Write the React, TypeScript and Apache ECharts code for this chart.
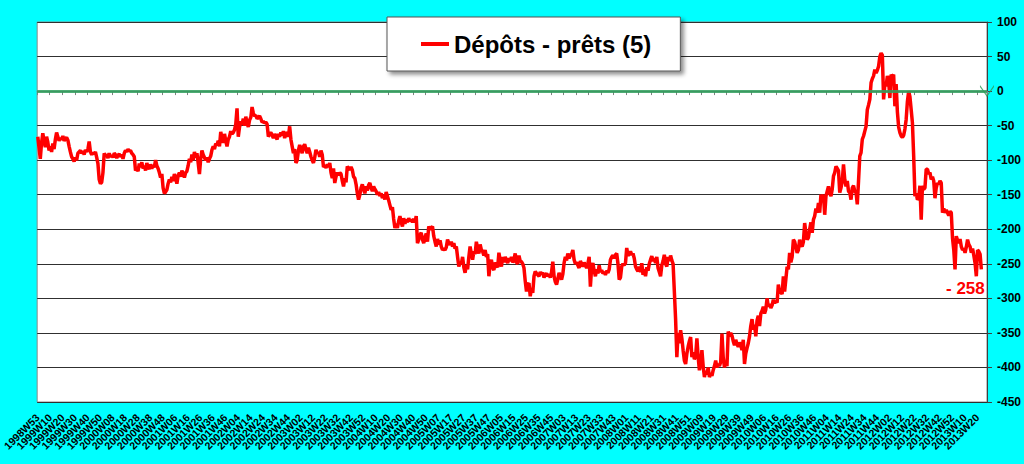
import React, { useEffect, useRef } from "react";
import * as echarts from "echarts";

// ISO weeks per year, first category is 1998W53
const startYear = 1998;
const startWeek = 53;
const weeksPerYear: Record<number, number> = {
  1998: 53, 1999: 52, 2000: 52, 2001: 52, 2002: 52, 2003: 52, 2004: 53, 2005: 52,
  2006: 52, 2007: 52, 2008: 52, 2009: 53, 2010: 52, 2011: 52, 2012: 52, 2013: 52,
};
const categoryCount = 758;
const labelEvery = 10;

const seriesName = "Dépôts - prêts (5)";

// weekly values (1998W53 ...)
const depotsMinusPrets: number[] = [
  -66, -82, -98, -75, -61, -72, -81, -66, -74, -86,
  -80, -88, -76, -84, -70, -60, -66, -72, -68, -70,
  -65, -72, -69, -67, -71, -80, -88, -95, -98, -102,
  -96, -100, -90, -88, -86, -90, -87, -92, -85, -88,
  -84, -73, -88, -92, -89, -91, -88, -96, -105, -128,
  -134, -132, -118, -90, -94, -92, -97, -90, -95, -93,
  -96, -90, -92, -97, -93, -91, -95, -92, -98, -90,
  -86, -88, -84, -87, -86, -90, -92, -95, -115, -112,
  -116, -105, -110, -103, -112, -108, -115, -104, -110, -113,
  -106, -112, -108, -110, -100, -108, -112, -118, -125, -120,
  -140, -148, -146, -143, -134, -128, -132, -124, -130, -120,
  -126, -134, -122, -118, -124, -115, -120, -125, -118, -116,
  -108, -98, -103, -92, -100, -88, -96, -90, -104, -120,
  -98, -86, -92, -96, -100, -96, -103, -98, -94, -85,
  -80, -84, -76, -78, -72, -80, -59, -68, -75, -62,
  -72, -80, -70, -66, -58, -62, -60, -56, -48, -25,
  -66, -52, -44, -48, -40, -50, -37, -46, -52, -42,
  -38, -23, -32, -36, -35, -40, -38, -36, -40, -45,
  -44, -46, -45, -48, -66, -62, -60, -64, -68, -62,
  -66, -70, -62, -66, -60, -64, -58, -68, -62, -60,
  -66, -51, -70, -80, -90, -84, -104, -100, -86, -78,
  -84, -90, -80, -77, -84, -90, -82, -88, -95, -100,
  -104, -96, -85, -90, -88, -95, -86, -92, -110, -108,
  -111, -106, -110, -104, -118, -126, -112, -133, -124, -118,
  -122, -118, -120, -130, -138, -126, -132, -109, -112, -114,
  -110, -114, -124, -126, -135, -148, -157, -150, -140, -135,
  -142, -148, -138, -144, -136, -133, -140, -145, -138, -142,
  -145, -150, -146, -152, -148, -155, -150, -157, -146, -152,
  -158, -165, -172, -168, -185, -198, -192, -198, -188, -181,
  -190, -196, -184, -192, -186, -190, -184, -188, -186, -190,
  -185, -190, -181, -220, -215, -208, -205, -215, -220, -212,
  -206, -218, -196, -200, -198, -196, -210, -218, -225, -214,
  -222, -216, -225, -230, -228, -230, -226, -215, -220, -222,
  -218, -225, -220, -228, -225, -240, -254, -248, -250, -240,
  -255, -263, -252, -258, -240, -225, -235, -244, -232, -236,
  -218, -228, -235, -222, -230, -232, -238, -230, -240, -236,
  -268, -250, -244, -256, -259, -248, -252, -255, -234, -245,
  -254, -240, -248, -240, -245, -249, -242, -246, -240, -248,
  -244, -235, -248, -250, -238, -246, -247, -250, -256, -275,
  -290, -280, -278, -297, -285, -292, -268, -261, -264, -266,
  -268, -262, -265, -263, -270, -266, -264, -268, -265, -270,
  -262, -247, -268, -276, -280, -272, -263, -268, -273, -265,
  -249, -240, -245, -235, -242, -238, -236, -230, -244, -250,
  -248, -252, -256, -246, -250, -254, -248, -252, -256, -250,
  -240, -283, -255, -249, -260, -268, -258, -264, -252, -262,
  -259, -264, -262, -266, -260, -263, -258, -244, -240, -238,
  -242, -237, -235, -250, -273, -270, -254, -250, -252, -249,
  -227, -238, -236, -232, -237, -235, -242, -254, -258, -261,
  -254, -262, -249, -266, -258, -268, -255, -260, -250, -244,
  -239, -246, -242, -249, -240, -256, -262, -268, -252, -246,
  -237, -250, -254, -240, -246, -238, -245, -250, -290, -330,
  -385, -350, -365, -346, -358, -375, -390, -395, -380, -370,
  -362, -356, -385, -378, -388, -384, -358, -385, -404, -395,
  -375, -398, -414, -405, -410, -400, -414, -408, -412, -404,
  -398, -390, -400, -395, -398, -392, -351, -385, -400, -392,
  -398, -348, -355, -350, -354, -362, -368, -360, -366, -370,
  -364, -368, -375, -360, -395, -380, -372, -365, -355, -340,
  -330, -345, -338, -355, -332, -325, -340, -322, -318, -312,
  -322, -316, -300, -312, -308, -314, -310, -302, -307, -304,
  -306, -280, -292, -290, -294, -268, -290, -272, -254, -258,
  -234, -248, -240, -215, -218, -226, -234, -230, -215, -222,
  -225, -218, -191, -205, -215, -212, -200, -190, -205, -186,
  -181, -170, -176, -162, -176, -150, -155, -150, -179, -152,
  -145, -138, -148, -152, -142, -123, -118, -109, -112, -115,
  -147, -140, -130, -106, -128, -138, -130, -145, -147, -157,
  -140, -137, -145, -147, -164, -130, -94, -89, -70, -65,
  -58, -51, -27, -20, -12, 12, 18, 22, 31, 26,
  30, 36, 50, 55, 52, -12, 10, 7, 22, 15,
  -10, 24, 20, 24, -22, 10, -30, -52, -60, -65,
  -67, -64, -55, -41, -15, 0, -8, -27, -46, -94,
  -152, -148, -157, -155, -137, -186, -137, -142, -140, -113,
  -113, -120, -118, -128, -124, -130, -155, -140, -133, -135,
  -130, -133, -176, -170, -176, -172, -176, -180, -174, -176,
  -213, -230, -258, -210, -216, -220, -214, -225, -230, -228,
  -234, -226, -215, -222, -225, -234, -228, -238, -249, -268,
  -230, -232, -236, -258,
];

const yMin = -450;
const yMax = 100;
const yStep = 50;
const zeroLineValue = 0;

function buildWeekLabels(): string[] {
  const out: string[] = [];
  let y = startYear;
  let w = startWeek;
  while (out.length < categoryCount) {
    out.push(`${y}W${String(w).padStart(2, "0")}`);
    w += 1;
    if (w > (weeksPerYear[y] ?? 52)) {
      y += 1;
      w = 1;
    }
  }
  return out;
}

const FONT = "Arial, 'Liberation Sans', Helvetica, sans-serif";

export default function App() {
  const ref = useRef<HTMLDivElement>(null);

  useEffect(() => {
    if (!ref.current) return;
    const chart = echarts.init(ref.current, undefined, { renderer: "svg" });
    const categories = buildWeekLabels();
    const last = depotsMinusPrets[depotsMinusPrets.length - 1];
    const showEvery = (index: number) => index % labelEvery === 0;

    chart.setOption({
      animation: false,
      backgroundColor: "#00FFFF",
      textStyle: { fontFamily: FONT },
      grid: {
        left: 36,
        right: 36,
        top: 22,
        bottom: 62,
        show: true,
        backgroundColor: "#ffffff",
        borderColor: "#8a8a8a",
        borderWidth: 1,
      },
      legend: {
        data: [seriesName],
        left: 387,
        top: 17,
        padding: [15, 29, 15, 34],
        icon: "rect",
        itemWidth: 28,
        itemHeight: 4,
        itemStyle: { color: "#ff0000" },
        backgroundColor: "#ffffff",
        borderColor: "#555555",
        borderWidth: 1,
        shadowBlur: 4,
        shadowOffsetX: 3,
        shadowOffsetY: 3,
        shadowColor: "rgba(0,0,0,0.45)",
        textStyle: {
          fontFamily: FONT,
          fontSize: 24,
          fontWeight: "bold",
          color: "#000000",
        },
      },
      xAxis: {
        type: "category",
        data: categories,
        boundaryGap: true,
        axisLine: { show: true, lineStyle: { color: "#808080", width: 1 } },
        axisTick: { show: true, interval: showEvery, length: 4, lineStyle: { color: "#808080" } },
        axisLabel: {
          interval: 0,
          formatter: (value: string, index: number) => (showEvery(index) ? value : ""),
          rotate: 45,
          margin: 14,
          fontFamily: FONT,
          fontSize: 10.5,
          fontWeight: "bold",
          color: "#000000",
        },
        splitLine: { show: false },
      },
      yAxis: {
        type: "value",
        position: "right",
        min: yMin,
        max: yMax,
        interval: yStep,
        axisLine: { show: true, lineStyle: { color: "#404040", width: 1 } },
        axisTick: { show: true, length: 5, lineStyle: { color: "#404040" } },
        axisLabel: {
          margin: 10,
          fontFamily: FONT,
          fontSize: 12,
          fontWeight: "bold",
          color: "#000000",
        },
        splitLine: { show: true, lineStyle: { color: "#303030", width: 1 } },
      },
      series: [
        {
          name: seriesName,
          type: "line",
          data: depotsMinusPrets,
          showSymbol: false,
          symbol: "none",
          lineStyle: { color: "#ff0000", width: 3.5 },
          itemStyle: { color: "#ff0000" },
          markLine: {
            silent: true,
            symbol: ["none", "path://M0,0 L10,10 L0,20 L2,20 L12,10 L2,0 Z"],
            symbolSize: [12, 14],
            label: { show: false },
            lineStyle: { color: "#2f9e5c", width: 3, type: "solid", opacity: 0.85 },
            data: [{ yAxis: zeroLineValue }],
          },
        },
      ],
      graphic: [
        {
          type: "text",
          left: 946,
          top: 280,
          style: {
            text: `- ${Math.abs(last)}`,
            fill: "#ff0000",
            font: `bold 17px ${FONT}`,
          },
        },
      ],
    });

    return () => {
      chart.dispose();
    };
  }, []);

  return (
    <div
      ref={ref}
      style={{ position: "fixed", left: 0, top: 0, width: 1024, height: 464 }}
    />
  );
}
